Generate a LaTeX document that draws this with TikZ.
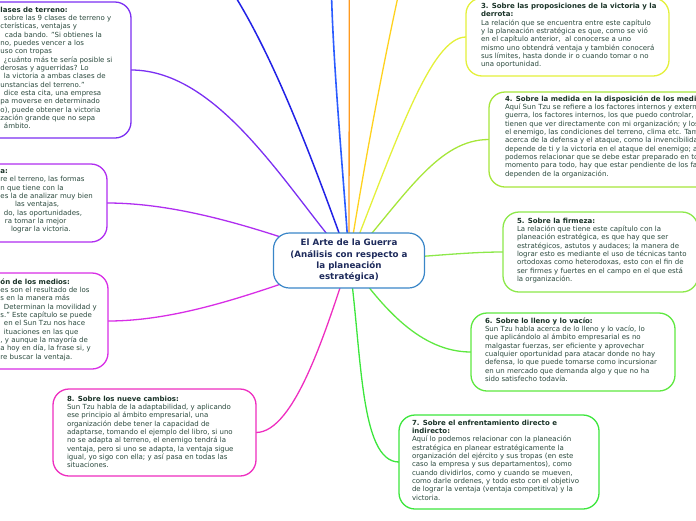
\documentclass[tikz,border=0pt]{standalone}
\usepackage{fontspec}
\setmainfont{DejaVu Sans}
\usetikzlibrary{backgrounds}
\definecolor{cnine}{HTML}{7B2FF2}
\definecolor{cten}{HTML}{B02EF0}
\definecolor{cmed}{HTML}{D82EE6}
\definecolor{ceight}{HTML}{EE2EC0}
\definecolor{cseven}{HTML}{3CE63C}
\definecolor{csix}{HTML}{5EE840}
\definecolor{cfive}{HTML}{8CE84A}
\definecolor{cfour}{HTML}{A6E63A}
\definecolor{cthree}{HTML}{E4F03A}
\definecolor{cgold}{HTML}{FFD21E}
\definecolor{corange}{HTML}{FF9A1E}
\definecolor{cblue}{HTML}{2B5CFF}
\definecolor{cdblue}{HTML}{2222E6}
\definecolor{ccentre}{HTML}{3A86C8}
\definecolor{ccentretext}{HTML}{1E2B5C}
\definecolor{bodycol}{HTML}{2B4A3E}
\definecolor{titlecol}{HTML}{1A3328}
\newcommand{\mystrut}{\rule{0pt}{6pt}}
\newcommand{\ttl}[1]{\textbf{\color{titlecol}#1}}
\newcommand{\ind}[1]{\hspace*{#1pt}}
\begin{document}
\begin{tikzpicture}[x=1pt,y=-1pt,
  box/.style={draw=#1, line width=1.3pt, rounded corners=16pt, fill=white,
    anchor=north west, outer sep=0pt, inner sep=0pt},
  txt/.style={anchor=north west, inner sep=0pt, outer sep=0pt, align=left,
    font=\fontsize{7}{8.35}\selectfont, text=bodycol},
  cbox/.style={draw=ccentre, line width=1.2pt, rounded corners=16pt, fill=white,
    minimum width=151pt, minimum height=55pt, inner sep=0pt, align=center,
    font=\fontsize{8.7}{11.3}\selectfont\bfseries, text=ccentretext},
  conn/.style={line width=1.3pt}]
\useasboundingbox (0,0) rectangle (696,520);

% central node
\node[cbox] (c) at (349,260.5) {El Arte de la Guerra\\(Análisis con respecto a\\la planeación\\estratégica)};

% boxes
\node[box=cnine, minimum width=161pt, minimum height=136pt] (b9) at (-30,2) {};
\node[box=cten, minimum width=137pt, minimum height=78pt] (b10) at (-30,164) {};
\node[box=cmed, minimum width=138pt, minimum height=96pt] (bm) at (-30,273) {};
\node[box=ceight, minimum width=203pt, minimum height=87pt] (b8) at (53,389) {};
\node[box=cseven, minimum width=200pt, minimum height=94pt] (b7) at (399,415) {};
\node[box=csix, minimum width=204pt, minimum height=78pt] (b6) at (471,313) {};
\node[box=cfive, minimum width=195pt, minimum height=80pt] (b5) at (503,212) {};
\node[box=cfour, minimum width=240pt, minimum height=95pt] (b4) at (489,92) {};
\node[box=cthree, minimum width=203pt, minimum height=78pt] (b3) at (466,-2) {};

% off-picture ends
\coordinate (edb) at (235,-4);
\coordinate (ebl) at (331.5,-5);
\coordinate (eor) at (349.3,-5);
\coordinate (egd) at (399,-8);

% texts
\node[txt] (t9) at (0,6) {\mystrut\ttl{\ind{0.5}lases de terreno:}\\
\ind{4}sobre las 9 clases de terreno y\\
\ind{0.5}cterísticas, ventajas y\\
\ind{5}cada bando. "Si obtienes la\\
\ind{0.5}no, puedes vencer a los\\
\ind{0.5}uso con tropas\\
\ind{4}¿cuánto más te sería posible si\\
\ind{0.5}derosas y aguerridas? Lo\\
\ind{4}la victoria a ambas clases de\\
\ind{0.5}unstancias del terreno."\\
\ind{4}dice esta cita, una empresa\\
\ind{0.5}pa moverse en determinado\\
\ind{0.5}o), puede obtener la victoria\\
\ind{0.5}zación grande que no sepa\\
\ind{4}ámbito.};

\node[txt] (t10) at (0,167.5) {\mystrut\ttl{\ind{0.5}a:}\\
\ind{0.5}re el terreno, las formas\\
\ind{0.5}n que tiene con la\\
\ind{0.5}es la de analizar muy bien\\
\ind{15}las ventajas,\\
\ind{4}do, las oportunidades,\\
\ind{5}ra tomar la mejor\\
\ind{11}lograr la victoria.};

\node[txt] (tm) at (0,278) {\mystrut\ttl{\ind{0.5}ón de los medios:}\\
\ind{0.5}es son el resultado de los\\
\ind{0.5}s en la manera más\\
\ind{4}Determinan la movilidad y\\
\ind{0.5}s." Este capítulo se puede\\
\ind{4}en el Sun Tzu nos hace\\
\ind{4}ituaciones en las que\\
\ind{0.5}, y aunque la mayoría de\\
\ind{0.5}a hoy en día, la frase si, y\\
\ind{0.5}re buscar la ventaja.};

\node[txt] (t8) at (67,395) {\mystrut\ttl{8. Sobre los nueve cambios:}\\
Sun Tzu habla de la adaptabilidad, y aplicando\\
ese principio al ámbito empresarial, una\\
organización debe tener la capacidad de\\
adaptarse, tomando el ejemplo del libro, si uno\\
no se adapta al terreno, el enemigo tendrá la\\
ventaja, pero si uno se adapta, la ventaja sigue\\
igual, yo sigo con ella; y así pasa en todas las\\
situaciones.};

\node[txt] (t7) at (412,419) {\mystrut\ttl{7. Sobre el enfrentamiento directo e}\\
\ttl{indirecto:}\\
Aquí lo podemos relacionar con la planeación\\
estratégica en planear estratégicamente la\\
organización del ejército y sus tropas (en este\\
caso la empresa y sus departamentos), como\\
cuando dividirlos, como y cuando se mueven,\\
como darle ordenes, y todo esto con el objetivo\\
de lograr la ventaja (ventaja competitiva) y la\\
victoria.};

\node[txt] (t6) at (485,317) {\mystrut\ttl{6. Sobre lo lleno y lo vacío:}\\
Sun Tzu habla acerca de lo lleno y lo vacío, lo\\
que aplicándolo al ámbito empresarial es no\\
malgastar fuerzas, ser eficiente y aprovechar\\
cualquier oportunidad para atacar donde no hay\\
defensa, lo que puede tomarse como incursionar\\
en un mercado que demanda algo y que no ha\\
sido satisfecho todavía.};

\node[txt] (t5) at (517,217) {\mystrut\ttl{5. Sobre la firmeza:}\\
La relación que tiene este capítulo con la\\
planeación estratégica, es que hay que ser\\
estratégicos, astutos y audaces; la manera de\\
lograr esto es mediante el uso de técnicas tanto\\
ortodoxas como heterodoxas, esto con el fin de\\
ser firmes y fuertes en el campo en el que está\\
la organización.};

\node[txt] (t4) at (505,95) {\mystrut\ttl{4. Sobre la medida en la disposición de los medios:}\\
Aquí Sun Tzu se refiere a los factores internos y externos\\
guerra, los factores internos, los que puedo controlar,\\
tienen que ver directamente con mi organización; y los\\
el enemigo, las condiciones del terreno, clima etc. También\\
acerca de la defensa y el ataque, como la invencibilidad\\
depende de ti y la victoria en el ataque del enemigo; a\\
podemos relacionar que se debe estar preparado en todo\\
momento para todo, hay que estar pendiente de los factores\\
dependen de la organización.};

\node[txt] (t3) at (481,2.3) {\mystrut\ttl{3. Sobre las proposiciones de la victoria y la}\\
\ttl{derrota:}\\
La relación que se encuentra entre este capítulo\\
y la planeación estratégica es que, como se vió\\
en el capítulo anterior,\ \ al conocerse a uno\\
mismo uno obtendrá ventaja y también conocerá\\
sus límites, hasta donde ir o cuando tomar o no\\
una oportunidad.};

% connectors
\begin{scope}[on background layer]
\draw[conn, cnine] (c.center) .. controls (289,193) and (221,70) .. (b9.east);
\draw[conn, cten] (c.center) .. controls (274,234) and (187,203) .. (b10.east);
\draw[conn, cmed] (c.center) .. controls (273,286) and (188,321) .. (bm.east);
\draw[conn, ceight] (c.center) .. controls (327,327) and (295,432.5) .. (b8.east);
\draw[conn, cseven] (c.center) .. controls (362,349) and (359,462) .. (b7.west);
\draw[conn, csix] (c.center) .. controls (383,309) and (421,352) .. (b6.west);
\draw[conn, cfive] (c.center) .. controls (420,258) and (460,252) .. (b5.west);
\draw[conn, cfour] (c.center) .. controls (408,192) and (439,139.5) .. (b4.west);
\draw[conn, cthree] (c.center) .. controls (397,139) and (431,37) .. (b3.west);
\draw[conn, cgold] (c.center) .. controls (363,171) and (382,70) .. (egd);
\draw[conn, corange] (c.center) -- (eor);
\draw[conn, cblue, line width=1.6pt] (c.center) .. controls (344,180) and (334,80) .. (ebl);
\draw[conn, cdblue, line width=1.5pt] (c.center) .. controls (315,166) and (277,64) .. (edb);
\end{scope}
\end{tikzpicture}
\end{document}
